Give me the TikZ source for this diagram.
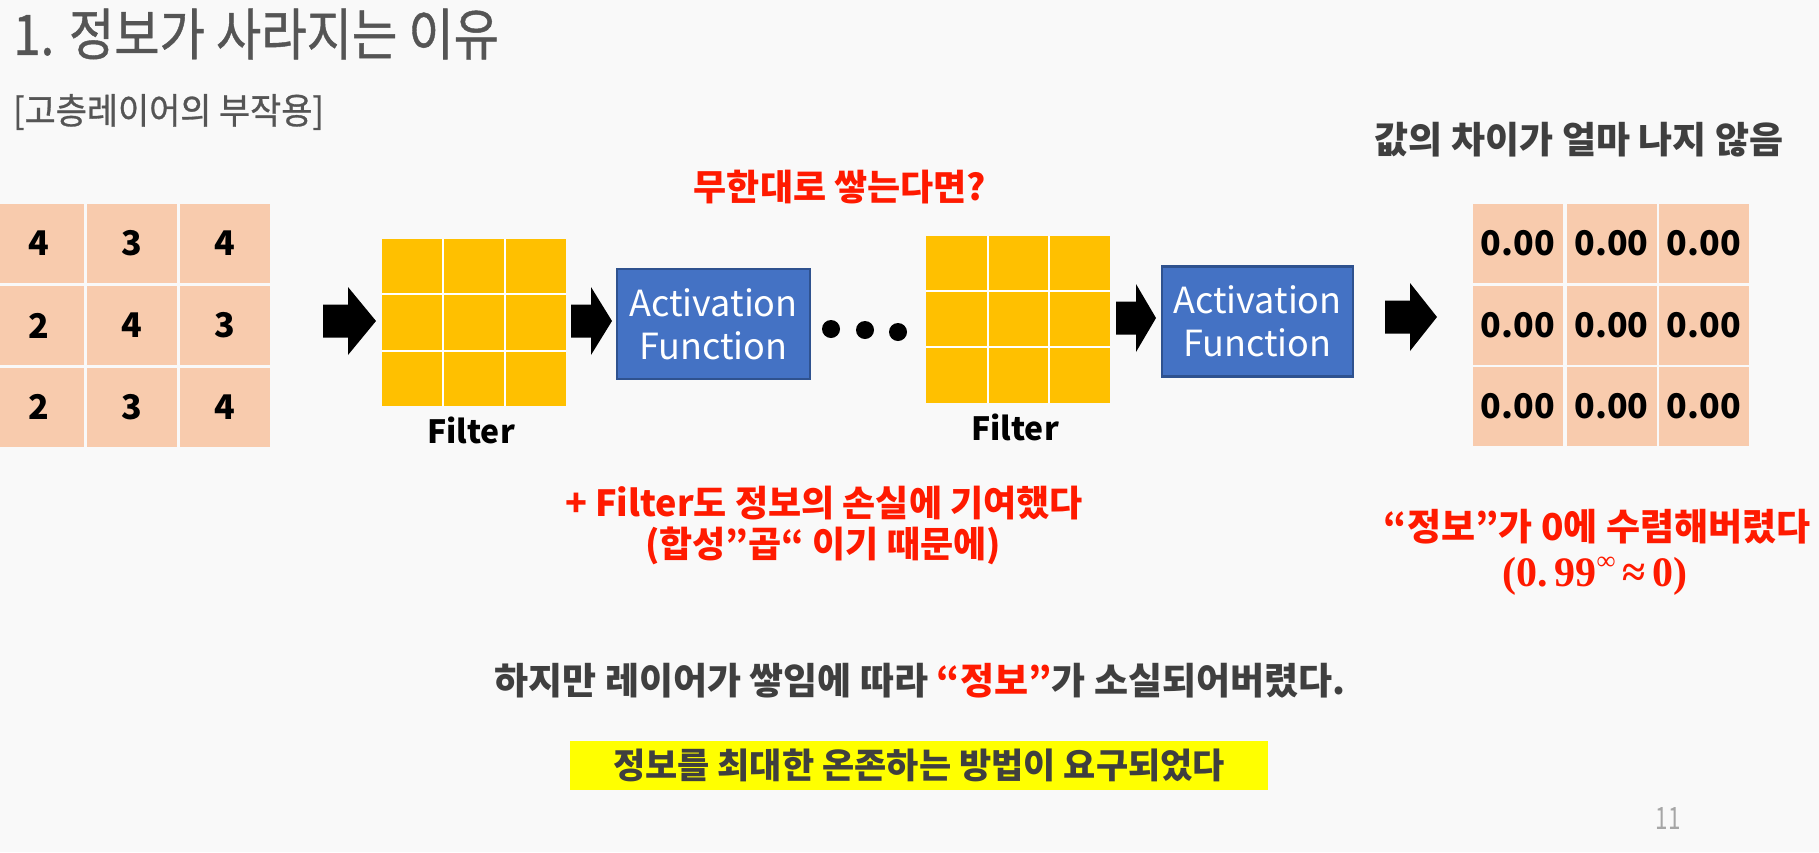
\documentclass[tikz,border=0pt]{standalone}
\usepackage[no-math]{fontspec}
\setmainfont{Noto Sans CJK KR}
\newfontfamily\titlefont[FakeBold=0.8]{Noto Sans CJK KR}
\newfontfamily\serifmath{Liberation Serif}
\newcommand\myfs[1]{\fontsize{#1}{#1}\selectfont}
\definecolor{bg}{HTML}{F9F9F9}
\definecolor{peach}{HTML}{F8CBAD}
\definecolor{gold}{HTML}{FFC000}
\definecolor{actblue}{HTML}{4472C4}
\definecolor{actedge}{HTML}{2F528F}
\definecolor{redtxt}{HTML}{FF1A00}
\definecolor{titlegray}{HTML}{555555}
\definecolor{darktxt}{HTML}{3F3F3F}
\definecolor{hl}{HTML}{FFFF00}
\definecolor{pagegray}{HTML}{A6A6A6}
\newcommand\blockarrow[4]{\fill[black] (#1,#4-16.5) -- (#2,#4-16.5) -- (#2,#4-34) -- (#3,#4) -- (#2,#4+34) -- (#2,#4+16.5) -- (#1,#4+16.5) -- cycle;}
\begin{document}
\begin{tikzpicture}[x=1pt,y=-1pt,
  peachcell/.style={fill=peach, minimum width=90pt, minimum height=79pt, inner sep=0pt, font=\myfs{34}\bfseries, text=black},
  filterbox/.style={fill=gold, minimum width=184pt, minimum height=167pt, inner sep=0pt},
  gridline/.style={draw=white, line width=2pt},
  actbox/.style={fill=actblue, draw=actedge, line width=2.5pt, minimum width=193pt, minimum height=110pt, inner sep=0pt, align=center, text=white, font=\fontsize{36}{43}\selectfont},
  filterlabel/.style={font=\myfs{32}\bfseries, text=black, inner sep=0pt},
  redtext/.style={font=\myfs{36}\bfseries, text=redtxt, inner sep=0pt},
  darktext/.style={font=\myfs{37}\bfseries, text=darktxt, inner sep=0pt}
]
\useasboundingbox (0,0) rectangle (1819,852);
\fill[bg] (0,0) rectangle (1819,852);

% title
\node[anchor=west, inner sep=0pt, text=titlegray, font=\titlefont\myfs{56}] (title) at (13,34) {\scalebox{0.88}[1]{1. 정보가 사라지는 이유}};
\node[anchor=west, inner sep=0pt, text=titlegray, font=\titlefont\myfs{36}] (sub) at (13,112) {\scalebox{0.94}[1]{[고층레이어의 부작용]}};

% left grid
\node[peachcell] (l11) at (39,243.5) {4};
\node[peachcell] (l12) at (132,243.5) {3};
\node[peachcell] (l13) at (224.5,243.5) {4};
\node[peachcell] (l21) at (39,325.5) {2};
\node[peachcell] (l22) at (132,325.5) {4};
\node[peachcell] (l23) at (224.5,325.5) {3};
\node[peachcell] (l31) at (39,407) {2};
\node[peachcell] (l32) at (132,407) {3};
\node[peachcell] (l33) at (224.5,407) {4};

% arrows
\blockarrow{323}{348}{376}{321}
\blockarrow{571}{591}{612}{321}
\blockarrow{1116}{1136}{1156}{318}
\blockarrow{1385}{1410}{1437}{317}

% filter 1
\node[filterbox] (f1) at (474,322.5) {};
\draw[gridline] (443,239) -- (443,406);
\draw[gridline] (505,239) -- (505,406);
\draw[gridline] (382,294) -- (566,294);
\draw[gridline] (382,351) -- (566,351);
\node[filterlabel] (f1lab) at (471,430) {Filter};

% activation 1
\node[actbox] (act1) at (713.5,324) {Activation\\Function};

% dots
\fill[black] (831,329) circle (9pt);
\fill[black] (865,330) circle (9pt);
\fill[black] (898,332) circle (9pt);

% filter 2
\node[filterbox] (f2) at (1018,319.5) {};
\draw[gridline] (988,236) -- (988,403);
\draw[gridline] (1049,236) -- (1049,403);
\draw[gridline] (926,291) -- (1110,291);
\draw[gridline] (926,347) -- (1110,347);
\node[filterlabel] (f2lab) at (1015,427) {Filter};

% activation 2
\node[actbox, minimum width=191pt] (act2) at (1257.5,321.5) {Activation\\Function};

% right grid
\node[peachcell] (r11) at (1518,243.5) {0.00};
\node[peachcell] (r12) at (1611.5,243.5) {0.00};
\node[peachcell] (r13) at (1704,243.5) {0.00};
\node[peachcell] (r21) at (1518,325) {0.00};
\node[peachcell] (r22) at (1611.5,325) {0.00};
\node[peachcell] (r23) at (1704,325) {0.00};
\node[peachcell] (r31) at (1518,406.5) {0.00};
\node[peachcell] (r32) at (1611.5,406.5) {0.00};
\node[peachcell] (r33) at (1704,406.5) {0.00};

% texts
\node[darktext] (diff) at (1579,140) {값의 차이가 얼마 나지 않음};
\node[redtext] (q) at (840,187) {무한대로 쌓는다면?};
\node[redtext] (contrib1) at (824,503) {+ Filter도 정보의 손실에 기여했다};
\node[redtext] (contrib2) at (823,546) {(합성”곱“ 이기 때문에)};
\node[redtext, font=\myfs{37}\bfseries] (conv) at (1597,527) {“정보”가 0에 수렴해버렸다};
\node[text=redtxt, inner sep=0pt, font=\serifmath\myfs{42}\bfseries] (formula) at (1595,576) {(0.\,99\raisebox{0.4em}{\myfs{26}∞}\,≈\,0)};
\node[darktext] (bottom) at (920,681) {하지만 레이어가 쌓임에 따라 \textcolor{redtxt}{“정보”}가 소실되어버렸다.};
\node[fill=hl, minimum width=698pt, minimum height=49pt, inner sep=0pt, font=\myfs{35}\bfseries, text=darktxt] (hl) at (919,765.5) {정보를 최대한 온존하는 방법이 요구되었다};
\node[text=pagegray, inner sep=0pt, font=\myfs{28}] (pg) at (1668,819) {\scalebox{0.8}[1.1]{11}};
\end{tikzpicture}
\end{document}
